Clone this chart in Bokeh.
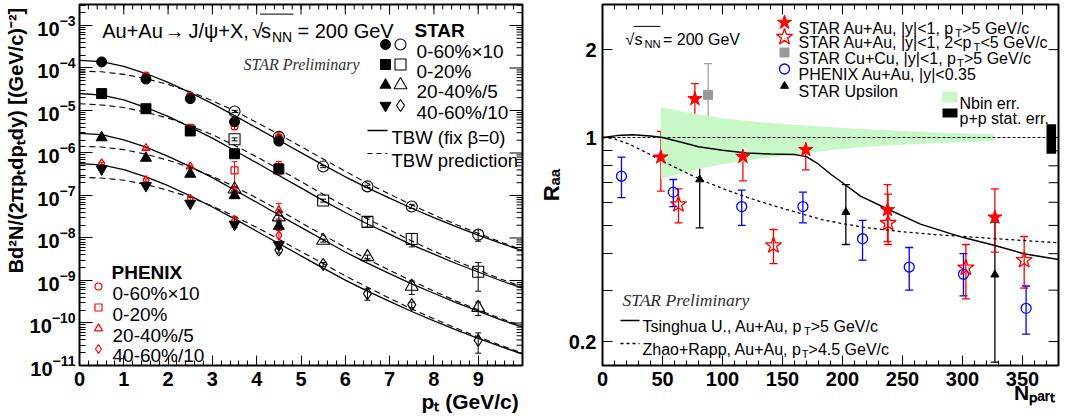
import numpy as np
from bokeh.plotting import figure
from bokeh.layouts import row
from bokeh.models import (Range1d, LinearScale, FixedTicker, Label,
                          ColumnDataSource, Whisker, TeeHead, Span, CustomJSTickFormatter)
from bokeh.embed import file_html
from bokeh.resources import INLINE

# ================= LEFT PANEL DATA : J/psi spectra =================
pt_low = [0.5, 1.5, 2.5, 3.5, 4.5]
star_low_0060 = [1.39e-4, 5.5e-5, 1.9e-5, 5.4e-6, 1.9e-6]
star_low_0020 = [2.5e-5, 1.1e-5, 3.3e-6, 9.6e-7, 4.2e-7]
star_low_2040 = [2.3e-6, 7.6e-7, 3.2e-7, 1.0e-7, 1.9e-8]
star_low_4060 = [4.2e-7, 1.7e-7, 6.5e-8, 2.1e-8, 6.9e-9]
star_low_relerr = [0.05, 0.06, 0.08, 0.15, 0.2]

pt_high_0060 = [3.5, 4.5, 5.5, 6.5, 7.5, 9.0]
star_high_0060 = [9.5e-6, 2.4e-6, 4.8e-7, 1.64e-7, 5.5e-8, 1.2e-8]
star_high_0060_relerr = [0.06, 0.1, 0.06, 0.06, 0.1, 0.3]
pt_high_0020 = [3.5, 5.5, 6.5, 7.5, 9.0]
star_high_0020 = [2.1e-6, 7.6e-8, 2.4e-8, 9.5e-9, 1.6e-9]
star_high_0020_relerr = [0.08, 0.08, 0.25, 0.35, 0.65]
pt_high_2040 = [3.5, 4.5, 5.5, 6.5, 7.5, 9.0]
star_high_2040 = [1.4e-7, 3.1e-8, 8.7e-9, 3.6e-9, 7.2e-10, 2.3e-10]
star_high_2040_relerr = [0.1, 0.1, 0.08, 0.1, 0.35, 0.35]
pt_high_4060 = [4.5, 5.5, 6.5, 7.5, 9.0]
star_high_4060 = [5.2e-9, 2.4e-9, 4.9e-10, 2.7e-10, 3.9e-11]
star_high_4060_relerr = [0.15, 0.1, 0.3, 0.15, 0.5]

phenix_pt_0060 = [1.5, 2.5, 3.5, 4.5]
phenix_0060 = [6.6e-5, 2.2e-5, 4.2e-6, 2.3e-6]
phenix_0060_relerr = [0.05, 0.06, 0.15, 0.3]
phenix_pt_0020 = [1.5, 2.5, 3.5, 4.5]
phenix_0020 = [1.15e-5, 3.9e-6, 3.9e-7, 4.7e-7]
phenix_0020_relerr = [0.05, 0.08, 0.6, 0.35]
phenix_pt_2040 = [1.5, 2.5, 3.5, 4.5]
phenix_2040 = [1.3e-6, 4.8e-7, 1.3e-7, 4.5e-8]
phenix_2040_relerr = [0.06, 0.08, 0.25, 0.45]
phenix_pt_4060 = [0.5, 1.5, 2.5, 3.5, 4.5]
phenix_4060 = [5.7e-7, 2.3e-7, 8.3e-8, 2.6e-8, 1.15e-8]
phenix_4060_relerr = [0.06, 0.07, 0.1, 0.25, 0.3]

# TBW curves (log10 of yield)
tbw_pt = [0.0, 0.5, 1.0, 1.5, 2.0, 2.5, 3.0, 3.5, 4.0, 4.5, 5.0,
          5.5, 6.0, 6.5, 7.0, 7.5, 8.0, 8.5, 9.0, 9.5, 10.0]
tbw_fit_0060 = [-3.82, -3.85, -3.96, -4.13, -4.34, -4.58, -4.84, -5.12, -5.41, -5.70, -5.99,
                -6.28, -6.56, -6.82, -7.06, -7.30, -7.52, -7.73, -7.93, -8.12, -8.30]
tbw_fit_0020 = [-4.60, -4.64, -4.75, -4.93, -5.14, -5.39, -5.65, -5.94, -6.23, -6.53, -6.82,
                -7.12, -7.40, -7.67, -7.91, -8.16, -8.38, -8.60, -8.80, -9.00, -9.18]
tbw_fit_2040 = [-5.54, -5.57, -5.69, -5.86, -6.08, -6.32, -6.58, -6.87, -7.16, -7.46, -7.75,
                -8.04, -8.33, -8.59, -8.84, -9.08, -9.30, -9.52, -9.72, -9.92, -10.10]
tbw_fit_4060 = [-6.25, -6.28, -6.39, -6.56, -6.77, -7.01, -7.27, -7.55, -7.84, -8.13, -8.42,
                -8.71, -8.99, -9.25, -9.49, -9.73, -9.95, -10.16, -10.36, -10.55, -10.73]
tbw_pred_0060 = [-4.07, -4.09, -4.15, -4.25, -4.39, -4.56, -4.77, -5.01, -5.28, -5.56, -5.85,
                 -6.14, -6.43, -6.71, -6.97, -7.22, -7.46, -7.68, -7.89, -8.09, -8.28]
tbw_pred_0020 = [-4.84, -4.87, -4.93, -5.04, -5.18, -5.36, -5.57, -5.82, -6.09, -6.38, -6.67,
                 -6.97, -7.26, -7.55, -7.81, -8.07, -8.31, -8.54, -8.75, -8.96, -9.15]
tbw_pred_2040 = [-5.84, -5.86, -5.92, -6.03, -6.17, -6.34, -6.55, -6.79, -7.06, -7.34, -7.64,
                 -7.93, -8.22, -8.50, -8.76, -9.01, -9.25, -9.48, -9.69, -9.89, -10.08]
tbw_pred_4060 = [-6.57, -6.59, -6.64, -6.74, -6.88, -7.04, -7.25, -7.49, -7.75, -8.03, -8.32,
                 -8.60, -8.89, -9.16, -9.42, -9.67, -9.90, -10.12, -10.33, -10.52, -10.71]

left_xticks = [0, 1, 2, 3, 4, 5, 6, 7, 8, 9]
left_yticks_exp = [-11, -10, -9, -8, -7, -6, -5, -4, -3]

# ================= RIGHT PANEL DATA : R_AA vs Npart =================
star_hi_npart = [48.6, 77, 117, 169.4, 237.5, 327]
star_hi_raa = [0.856, 1.357, 0.86, 0.908, 0.565, 0.533]
star_hi_lo = [0.655, 1.17, 0.71, 0.775, 0.44, 0.405]
star_hi_up = [1.05, 1.53, 1.0, 1.05, 0.69, 0.667]

star_mid_npart = [63.3, 142.5, 238, 302.8, 351.4]
star_mid_raa = [0.59, 0.427, 0.509, 0.358, 0.38]
star_mid_lo = [0.51, 0.37, 0.43, 0.28, 0.305]
star_mid_up = [0.667, 0.484, 0.64, 0.43, 0.458]

cucu_npart = [88]
cucu_raa = [1.40]
cucu_lo = [1.0]
cucu_up = [1.79]

phenix_npart = [15.8, 59, 116, 167, 216.7, 255.6, 300.8, 353]
phenix_raa = [0.737, 0.65, 0.58, 0.58, 0.45, 0.36, 0.34, 0.26]
phenix_lo = [0.622, 0.58, 0.50, 0.51, 0.38, 0.30, 0.287, 0.212]
phenix_up = [0.856, 0.718, 0.66, 0.65, 0.52, 0.42, 0.40, 0.31]

upsilon_npart = [81, 202.8, 327]
upsilon_raa = [0.718, 0.555, 0.339]
upsilon_lo = [0.49, 0.43, 0.17]
upsilon_up = [0.946, 0.69, 0.513]

nbin_npart = [48.6, 70, 100, 130, 160, 190, 220, 250, 280, 310, 326]
nbin_lo = [0.72, 0.765, 0.81, 0.845, 0.875, 0.905, 0.93, 0.945, 0.958, 0.968, 0.972]
nbin_hi = [1.27, 1.22, 1.165, 1.13, 1.105, 1.085, 1.067, 1.052, 1.04, 1.03, 1.026]

pp_box_npart = [370, 378]
pp_box_raa = [0.88, 1.11]

tsinghua_npart = [0, 12, 25, 40, 50, 65, 80, 100, 120, 140, 160, 170, 180, 190, 200, 215, 237, 265, 300, 327, 351, 380]
tsinghua_raa = [1.0, 1.015, 1.022, 1.012, 1.0, 0.965, 0.93, 0.905, 0.885, 0.878, 0.875, 0.86, 0.81, 0.75,
                0.70, 0.63, 0.57, 0.505, 0.455, 0.427, 0.40, 0.382]
zhao_npart = [0, 10, 22, 35, 49, 62, 75, 88, 101, 115, 129, 142, 156, 170, 183, 200, 217, 235, 253, 277, 301, 325, 350, 380]
zhao_raa = [1.0, 0.99, 0.95, 0.895, 0.834, 0.785, 0.74, 0.70, 0.667, 0.635, 0.608, 0.585, 0.563, 0.542,
            0.523, 0.507, 0.493, 0.483, 0.474, 0.465, 0.458, 0.451, 0.444, 0.436]

right_xticks = [0, 50, 100, 150, 200, 250, 300, 350]
right_yticks = [0.2, 0.3, 0.4, 0.5, 0.6, 0.7, 0.8, 0.9, 1, 2]
right_ylabels = [0.2, 1, 2]

# ================= helpers =================
RED, BLUE, GRAY, GREEN = "#ff0000", "#0000ff", "#999999", "#c8f8c8"
FONT = "Liberation Sans"
NB = "\u00a0"
REG = {' ': 278, '%': 889, '(': 333, ')': 333, '+': 584, ',': 278, '-': 333, '.': 278, '/': 278,
       '<': 584, '=': 584, '>': 584, '|': 260, '×': 584, 'β': 576, 'π': 578, 'ψ': 712, '→': 1000,
       '√': 549, 'A': 667, 'B': 667, 'C': 722, 'E': 667, 'G': 778, 'H': 722, 'I': 278, 'J': 500,
       'N': 722, 'P': 667, 'R': 722, 'S': 667, 'T': 611, 'U': 722, 'V': 667, 'W': 944, 'X': 667,
       'Z': 611, 'a': 556, 'b': 556, 'c': 500, 'd': 556, 'e': 556, 'f': 278, 'g': 556, 'h': 556,
       'i': 222, 'k': 500, 'l': 222, 'm': 833, 'n': 556, 'o': 556, 'p': 556, 'r': 333, 's': 500,
       't': 278, 'u': 556, 'v': 500, 'x': 500, 'y': 500}
BOLD = {' ': 278, '%': 889, '(': 333, ')': 333, '+': 584, '-': 333, '/': 278, '.': 278, '[': 333,
        ']': 333, '×': 584, 'π': 620, 'A': 722, 'B': 722, 'E': 667, 'G': 778, 'H': 722, 'I': 278,
        'N': 722, 'P': 667, 'R': 722, 'S': 667, 'T': 611, 'V': 667, 'X': 667, 'a': 556, 'c': 556,
        'd': 611, 'e': 556, 'p': 611, 'r': 389, 't': 333, 'y': 556}


def twidth(s, size, bold):
    tbl = BOLD if bold else REG
    return sum(tbl.get(c, 556) for c in s) * size / 1000.0


def rich(p, org, X, Y, runs, size, bold=False, color="black", sub_drop=0.3, sup_rise=0.42,
         style=None, font=FONT):
    """Text with sub/superscript runs in frame pixel space. A run may carry its own x position."""
    x0, yb = org
    pos = X
    spans = []
    for run in runs:
        txt, kind = run[0], run[1]
        if len(run) > 2:
            pos = run[2]
        sz = size * (0.7 if kind != "n" else 1.0)
        w = twidth(txt, sz, bold)
        stripped = txt.lstrip(" ")
        lead = twidth(txt[:len(txt) - len(stripped)], sz, bold)
        shift = {"n": 0.0, "sub": -sub_drop * size, "sup": sup_rise * size}[kind]
        fs = style if style else ("bold" if bold else "normal")
        p.add_layout(Label(x=(pos - x0) + lead, y=(yb - Y) + shift, x_range_name="px",
                           y_range_name="py", text=stripped, text_font=font,
                           text_font_size=f"{sz:.1f}px", text_font_style=fs, text_color=color,
                           text_align="left", text_baseline="alphabetic"))
        spans.append((pos, pos + w))
        pos += w
    return spans


def mark(p, org, X, Y, **kw):
    p.scatter(x=[X - org[0]], y=[org[1] - Y], x_range_name="px", y_range_name="py", **kw)


def hline(p, org, X1, X2, Y, **kw):
    p.line(x=[X1 - org[0], X2 - org[0]], y=[org[1] - Y, org[1] - Y],
           x_range_name="px", y_range_name="py", **kw)


def box(p, org, X1, X2, Y1, Y2, color):
    p.quad(left=[X1 - org[0]], right=[X2 - org[0]], bottom=[org[1] - Y2], top=[org[1] - Y1],
           x_range_name="px", y_range_name="py", fill_color=color, line_color=None)


def tick_style(ax, major, minor, standoff=6):
    ax.major_tick_in = major
    ax.major_tick_out = 0
    ax.minor_tick_in = minor
    ax.minor_tick_out = 0
    ax.axis_line_color = None
    ax.major_tick_line_color = "black"
    ax.minor_tick_line_color = "black"
    ax.major_label_text_font = FONT
    ax.major_label_text_font_style = "bold"
    ax.major_label_text_font_size = "20px"
    ax.major_label_text_color = "black"
    ax.major_label_standoff = standoff


def title_style(ax, text, size, standoff):
    ax.axis_label = text
    ax.axis_label_text_font = FONT
    ax.axis_label_text_font_style = "bold"
    ax.axis_label_text_font_size = f"{size}px"
    ax.axis_label_text_color = "black"
    ax.axis_label_standoff = standoff


def mirror_ticks(p, xr, yr, fw, fh, xt, xm, yt, ym, xlen, ylen):
    """ROOT-style ticks on the top and right frame edges."""
    x0, x1 = xr
    y0, y1 = yr
    dec = np.log10(y1) - np.log10(y0)
    for ticks, L in [(xt, xlen[0]), (xm, xlen[1])]:
        n = len(ticks)
        ybot = y1 / 10 ** (L * dec / fh)
        p.segment(x0=ticks, y0=[y1] * n, x1=ticks, y1=[ybot] * n, line_color="black", line_width=1)
    for ticks, L in [(yt, ylen[0]), (ym, ylen[1])]:
        n = len(ticks)
        xl = x1 - L * (x1 - x0) / fw
        p.segment(x0=[x1] * n, y0=ticks, x1=[xl] * n, y1=ticks, line_color="black", line_width=1)


def errbars(p, x, y, rel=None, lo=None, hi=None, color="black", head=6, width=1.0):
    y = np.array(y, dtype=float)
    if rel is not None:
        lo = y * (1 - np.array(rel))
        hi = y * (1 + np.array(rel))
    src = ColumnDataSource(dict(x=list(x), lo=list(lo), hi=list(hi)))
    p.add_layout(Whisker(source=src, base="x", lower="lo", upper="hi", line_color=color,
                         line_width=width,
                         upper_head=TeeHead(size=head, line_color=color, line_width=width),
                         lower_head=TeeHead(size=head, line_color=color, line_width=width)))


FH = 361
YB = 365  # canvas y of the frame bottom

# ================= LEFT FIGURE =================
FW1 = 443
ORG1 = (79, YB)
XR1 = (0, 10)
YR1 = (1e-11, 10 ** -2.506)
p1 = figure(frame_width=FW1, frame_height=FH, x_range=Range1d(*XR1),
            y_range=Range1d(*YR1), y_axis_type="log",
            output_backend="svg", toolbar_location=None,
            min_border_left=79, min_border_right=13, min_border_top=4, min_border_bottom=54)
p1.extra_x_ranges = {"px": Range1d(0, FW1)}
p1.extra_y_ranges = {"py": Range1d(0, FH)}
p1.extra_x_scales = {"px": LinearScale()}
p1.extra_y_scales = {"py": LinearScale()}
p1.xgrid.grid_line_color = None
p1.ygrid.grid_line_color = None
p1.outline_line_color = "black"
p1.outline_line_width = 2

x1_minor = [i * 0.2 for i in range(51)]
y1_major = [10.0 ** e for e in left_yticks_exp]
y1_minor = [m * 10.0 ** e for e in left_yticks_exp for m in range(2, 10)]
p1.xaxis[0].ticker = FixedTicker(ticks=left_xticks, minor_ticks=x1_minor)
tick_style(p1.xaxis[0], 10, 5)
p1.yaxis[0].ticker = FixedTicker(ticks=y1_major, minor_ticks=y1_minor)
tick_style(p1.yaxis[0], 13, 6, standoff=4)
mirror_ticks(p1, XR1, YR1, FW1, FH, left_xticks, x1_minor, y1_major, y1_minor, (10, 5), (13, 6))
title_style(p1.yaxis[0], NB * 16 + "Bd\u00b2N/(2\u03c0p\u209cdp\u209cdy) [(GeV/c)\u207b\u00b2]", 20, 0)
title_style(p1.xaxis[0], NB * 58 + "p\u209c (GeV/c)", 21, 1)

for fit, pred in [(tbw_fit_0060, tbw_pred_0060), (tbw_fit_0020, tbw_pred_0020),
                  (tbw_fit_2040, tbw_pred_2040), (tbw_fit_4060, tbw_pred_4060)]:
    p1.line(tbw_pt, 10 ** np.array(fit), line_color="black", line_width=1.3)
    p1.line(tbw_pt, 10 ** np.array(pred), line_color="black", line_width=1.1, line_dash="6 4")

for xs, ys, rel, c in [
    (pt_low, star_low_0060, star_low_relerr, "black"), (pt_low, star_low_0020, star_low_relerr, "black"),
    (pt_low, star_low_2040, star_low_relerr, "black"), (pt_low, star_low_4060, star_low_relerr, "black"),
    (pt_high_0060, star_high_0060, star_high_0060_relerr, "black"),
    (pt_high_0020, star_high_0020, star_high_0020_relerr, "black"),
    (pt_high_2040, star_high_2040, star_high_2040_relerr, "black"),
    (pt_high_4060, star_high_4060, star_high_4060_relerr, "black"),
    (phenix_pt_0060, phenix_0060, phenix_0060_relerr, RED),
    (phenix_pt_0020, phenix_0020, phenix_0020_relerr, RED),
    (phenix_pt_2040, phenix_2040, phenix_2040_relerr, RED),
    (phenix_pt_4060, phenix_4060, phenix_4060_relerr, RED)]:
    errbars(p1, xs, ys, rel=rel, color=c, head=6)

p1.scatter(phenix_pt_0060, phenix_0060, marker="circle", size=7, fill_color=None, line_color=RED, line_width=1.2)
p1.scatter(phenix_pt_0020, phenix_0020, marker="square", size=7, fill_color=None, line_color=RED, line_width=1.2)
p1.scatter(phenix_pt_2040, phenix_2040, marker="triangle", size=8, fill_color=None, line_color=RED, line_width=1.2)
p1.scatter(phenix_pt_4060, phenix_4060, marker="diamond", size=9, fill_color=None, line_color=RED, line_width=1.2)
p1.scatter(pt_low, star_low_0060, marker="circle", size=10, color="black")
p1.scatter(pt_low, star_low_0020, marker="square", size=10, color="black")
p1.scatter(pt_low, star_low_2040, marker="triangle", size=11, color="black")
p1.scatter(pt_low, star_low_4060, marker="inverted_triangle", size=11, color="black")
p1.scatter(pt_high_0060, star_high_0060, marker="circle", size=11, fill_color=None, line_color="black", line_width=1.1)
p1.scatter(pt_high_0020, star_high_0020, marker="square", size=11, fill_color=None, line_color="black", line_width=1.1)
p1.scatter(pt_high_2040, star_high_2040, marker="triangle", size=13, fill_color=None, line_color="black", line_width=1.1)
p1.scatter(pt_high_4060, star_high_4060, marker="diamond", size=12, fill_color=None, line_color="black", line_width=1.1)

# --- left texts (inside the frame) ---
rich(p1, ORG1, 101.7, 30, [("Au+Au", "n", 101.7), ("→", "n", 164), ("J/ψ+X,", "n", 188),
                           ("√", "n", 251.5), ("s", "n", 260.5), ("NN", "sub", 271.5),
                           ("= 200 GeV", "n", 297)], 20)
hline(p1, ORG1, 259.5, 293, 30 - 0.82 * 20, line_color="black", line_width=1)
rich(p1, ORG1, 414, 30, [("STAR", "n")], 19, bold=True)
rich(p1, ORG1, 243, 63.5, [("STAR Preliminary", "n")], 16, style="italic",
     font="Liberation Serif", color="#303030")
star_rows = [(44, "circle", "circle", 10, 11, "0-60%×10"),
             (64, "square", "square", 10, 11, "0-20%"),
             (84.5, "triangle", "triangle", 11, 13, "20-40%/5"),
             (105, "inverted_triangle", "diamond", 11, 12, "40-60%/10")]
for Yc, mf, mo, sf, so, lab in star_rows:
    mark(p1, ORG1, 385, Yc, marker=mf, size=sf, color="black")
    mark(p1, ORG1, 400, Yc, marker=mo, size=so, fill_color=None, line_color="black", line_width=1.1)
    rich(p1, ORG1, 416, Yc + 6.5, [(lab, "n")], 19)
hline(p1, ORG1, 367, 387, 130, line_color="black", line_width=1.3)
rich(p1, ORG1, 391, 136.5, [("TBW (fix β=0)", "n")], 18.5)
hline(p1, ORG1, 367, 387, 153, line_color="black", line_width=1.1, line_dash="5 4")
rich(p1, ORG1, 391, 159.5, [("TBW prediction", "n")], 18.5)

rich(p1, ORG1, 111, 272, [("PHENIX", "n")], 19, bold=True)
ph_rows = [(286, "circle", 7, "0-60%×10"), (307, "square", 7, "0-20%"),
           (328, "triangle", 8, "20-40%/5"), (348.5, "diamond", 9, "40-60%/10")]
for Yc, m, s, lab in ph_rows:
    mark(p1, ORG1, 98, Yc, marker=m, size=s, fill_color=None, line_color=RED, line_width=1.2)
    rich(p1, ORG1, 112, Yc + 6.5, [(lab, "n")], 19)

# ================= RIGHT FIGURE =================
FW2 = 456
ORG2 = (600, YB)
XR2 = (0, 380)
YR2 = (0.1656, 2.855)
p2 = figure(frame_width=FW2, frame_height=FH, x_range=Range1d(*XR2),
            y_range=Range1d(*YR2), y_axis_type="log",
            output_backend="svg", toolbar_location=None,
            min_border_left=65, min_border_right=9, min_border_top=4, min_border_bottom=54)
p2.extra_x_ranges = {"px": Range1d(0, FW2)}
p2.extra_y_ranges = {"py": Range1d(0, FH)}
p2.extra_x_scales = {"px": LinearScale()}
p2.extra_y_scales = {"py": LinearScale()}
p2.xgrid.grid_line_color = None
p2.ygrid.grid_line_color = None
p2.outline_line_color = "black"
p2.outline_line_width = 2

x2_minor = list(range(0, 381, 10))
p2.xaxis[0].ticker = FixedTicker(ticks=right_xticks, minor_ticks=x2_minor)
tick_style(p2.xaxis[0], 10, 5)
p2.yaxis[0].ticker = FixedTicker(ticks=right_yticks, minor_ticks=[])
p2.yaxis[0].formatter = CustomJSTickFormatter(
    args=dict(show=right_ylabels),
    code="for (const v of show) { if (Math.abs(v - tick) < 1e-9) return String(v); } return '';")
tick_style(p2.yaxis[0], 10, 5, standoff=6)
mirror_ticks(p2, XR2, YR2, FW2, FH, right_xticks, x2_minor, right_yticks, [], (10, 5), (10, 5))
title_style(p2.yaxis[0], "R\u2090\u2090", 22, 2)
title_style(p2.xaxis[0], NB * 70 + "N\u209a\u2090\u1d63\u209c", 21, -8)

p2.varea(x=nbin_npart, y1=nbin_lo, y2=nbin_hi, fill_color=GREEN)
p2.add_layout(Span(location=1.0, dimension="width", line_color="black", line_width=1, line_dash="3 2"))
p2.line(tsinghua_npart, tsinghua_raa, line_color="black", line_width=1.5)
p2.line(zhao_npart, zhao_raa, line_color="black", line_width=1.3, line_dash="3 3")
p2.quad(left=[pp_box_npart[0]], right=[pp_box_npart[1]], bottom=[pp_box_raa[0]], top=[pp_box_raa[1]],
        fill_color="black", line_color=None)

errbars(p2, cucu_npart, cucu_raa, lo=cucu_lo, hi=cucu_up, color="#a0a0a0", head=8, width=1.3)
errbars(p2, upsilon_npart, upsilon_raa, lo=upsilon_lo, hi=upsilon_up, color="black", head=8, width=1.3)
errbars(p2, phenix_npart, phenix_raa, lo=phenix_lo, hi=phenix_up, color=BLUE, head=8, width=1.3)
errbars(p2, star_mid_npart, star_mid_raa, lo=star_mid_lo, hi=star_mid_up, color=RED, head=8, width=1.3)
errbars(p2, star_hi_npart, star_hi_raa, lo=star_hi_lo, hi=star_hi_up, color=RED, head=8, width=1.3)

p2.scatter(cucu_npart, cucu_raa, marker="square", size=9, color=GRAY)
p2.scatter(upsilon_npart, upsilon_raa, marker="triangle", size=8, color="black")
p2.scatter(phenix_npart, phenix_raa, marker="circle", size=10, fill_color=None, line_color=BLUE, line_width=1.3)
p2.scatter(star_mid_npart, star_mid_raa, marker="star", size=17, fill_color=None, line_color=RED, line_width=1.3)
p2.scatter(star_hi_npart, star_hi_raa, marker="star", size=15, color=RED)

# --- right texts (inside the frame) ---
rich(p2, ORG2, 623, 39, [("√", "n", 623), ("s", "n", 632), ("NN", "sub", 642),
                         ("= 200 GeV", "n", 660.5)], 16)
hline(p2, ORG2, 631, 658, 39 - 0.82 * 16, line_color="black", line_width=1)

leg = [(22, dict(marker="star", size=15, color=RED),
        [("STAR Au+Au, |y|<1, p", "n"), ("T", "sub"), (">5 GeV/c", "n")]),
       (36.5, dict(marker="star", size=17, fill_color=None, line_color=RED, line_width=1.3),
        [("STAR Au+Au, |y|<1, 2<p", "n"), ("T", "sub"), ("<5 GeV/c", "n")]),
       (52, dict(marker="square", size=9, color=GRAY),
        [("STAR Cu+Cu, |y|<1, p", "n"), ("T", "sub"), (">5 GeV/c", "n")]),
       (68.5, dict(marker="circle", size=10, fill_color=None, line_color=BLUE, line_width=1.3),
        [("PHENIX Au+Au, |y|<0.35", "n")]),
       (85.5, dict(marker="triangle", size=8, color="black"),
        [("STAR Upsilon", "n")])]
for Yc, mk, runs in leg:
    mark(p2, ORG2, 782, Yc, **mk)
    rich(p2, ORG2, 796, Yc + 5.5, runs, 16)

box(p2, ORG2, 940, 955, 91, 102, GREEN)
rich(p2, ORG2, 957, 102.5, [("Nbin err.", "n")], 16)
box(p2, ORG2, 940, 955, 108, 117, "black")
rich(p2, ORG2, 957, 118, [("p+p stat. err.", "n")], 16)

rich(p2, ORG2, 620, 299, [("STAR Preliminary", "n")], 17.5, style="italic",
     font="Liberation Serif", color="#303030")
hline(p2, ORG2, 618, 637, 320, line_color="black", line_width=1.5)
rich(p2, ORG2, 640, 325.5, [("Tsinghua U., Au+Au, p", "n"), ("T", "sub"), (">5 GeV/c", "n")], 16)
hline(p2, ORG2, 618, 637, 343, line_color="black", line_width=1.3, line_dash="3 3")
rich(p2, ORG2, 640, 348.5, [("Zhao+Rapp, Au+Au, p", "n"), ("T", "sub"), (">4.5 GeV/c", "n")], 16)

layout = row(p1, p2)
open("out.html", "w").write(file_html(layout, INLINE))
